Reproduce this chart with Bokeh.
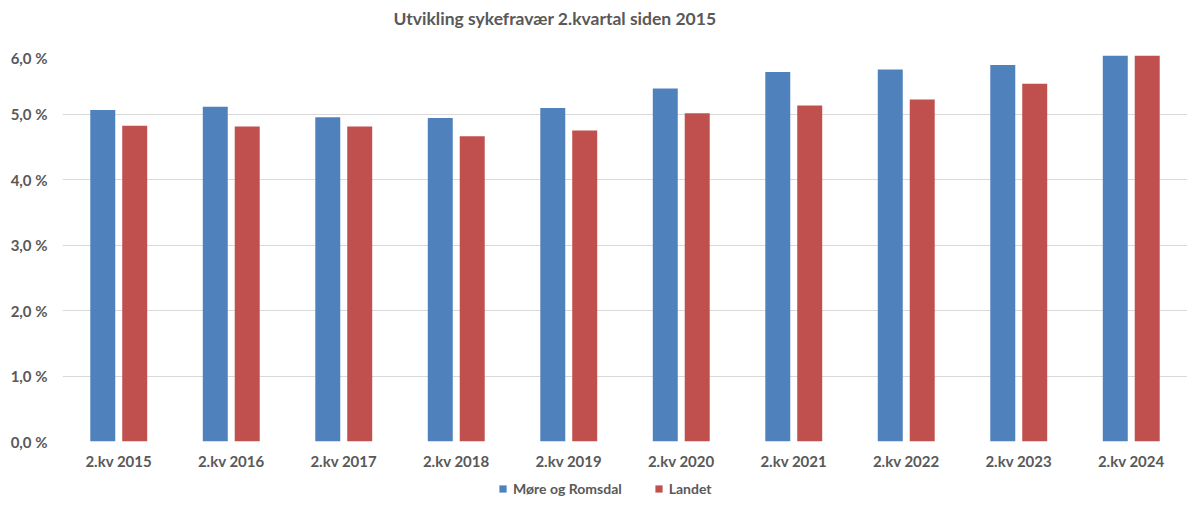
from bokeh.plotting import figure
from bokeh.layouts import column
from bokeh.models import (ColumnDataSource, Legend, LegendItem, CustomJSTickFormatter,
                          FixedTicker, Label)
from bokeh.transform import dodge
from bokeh.embed import file_html
from bokeh.resources import INLINE

categories = ["2.kv 2015", "2.kv 2016", "2.kv 2017", "2.kv 2018", "2.kv 2019",
              "2.kv 2020", "2.kv 2021", "2.kv 2022", "2.kv 2023", "2.kv 2024"]
more_og_romsdal = [5.06, 5.11, 4.95, 4.94, 5.09, 5.39, 5.64, 5.68, 5.75, 5.89]
landet = [4.82, 4.81, 4.81, 4.66, 4.75, 5.01, 5.13, 5.22, 5.46, 5.89]
series_names = ["Møre og Romsdal", "Landet"]
y_ticks = [0, 1, 2, 3, 4, 5, 6]
title_text = "Utvikling sykefravær 2.kvartal siden 2015"

FONT = "Lato"
TXT = "#595959"
BLUE = "#4F81BD"
RED = "#C0504D"
W = 1187
LEFT = 62

src = ColumnDataSource(dict(cat=categories, more=more_og_romsdal, landet=landet))


def strip(height, **kw):
    f = figure(width=W, height=height, x_axis_location=None, y_axis_location=None,
               output_backend="svg", toolbar_location=None,
               min_border_left=LEFT, min_border_right=0, min_border_top=0,
               min_border_bottom=0, **kw)
    f.grid.grid_line_color = None
    f.outline_line_color = None
    return f


# title strip
tt = strip(48, x_range=(0, 1), y_range=(0, 1))
tt.add_layout(Label(x=331, y=30, x_units="screen", y_units="screen", text=title_text,
                    text_font=FONT, text_font_size="17.5px", text_font_style="bold",
                    text_color=TXT, text_baseline="middle", text_align="left"))

# main chart
p = figure(x_range=categories, y_range=(0, 6), width=W, height=428,
           output_backend="svg", toolbar_location=None,
           min_border_left=LEFT, min_border_right=0, min_border_top=0, min_border_bottom=35)

r1 = p.vbar(x=dodge("cat", -0.142, range=p.x_range), top="more", width=0.222,
            source=src, fill_color=BLUE, line_color=None)
r2 = p.vbar(x=dodge("cat", 0.142, range=p.x_range), top="landet", width=0.222,
            source=src, fill_color=RED, line_color=None)

p.yaxis.ticker = FixedTicker(ticks=y_ticks)
p.yaxis.formatter = CustomJSTickFormatter(code="return tick.toFixed(1).replace('.', ',') + ' %';")
for ax in (p.xaxis[0], p.yaxis[0]):
    ax.axis_line_color = None
    ax.major_tick_line_color = None
    ax.minor_tick_line_color = None
    ax.major_tick_out = 0
    ax.major_tick_in = 0
    ax.major_label_text_font = FONT
    ax.major_label_text_font_size = "15px"
    ax.major_label_text_font_style = "bold"
    ax.major_label_text_color = TXT
p.yaxis.major_label_standoff = 15
p.xaxis.major_label_standoff = 10

p.xgrid.grid_line_color = None
p.ygrid.grid_line_color = "#d9d9d9"
p.ygrid.grid_line_width = 1
p.outline_line_color = None

# legend strip below the chart (hidden proxy bars, only used for the swatches)
lg = strip(21, x_range=categories, y_range=(-1000, -999))
q1 = lg.vbar(x="cat", top="more", bottom="more", width=0.2, source=src,
             fill_color=BLUE, line_color=None)
q2 = lg.vbar(x="cat", top="landet", bottom="landet", width=0.2, source=src,
             fill_color=RED, line_color=None)
q1.visible = False
q2.visible = False
legend = Legend(items=[LegendItem(label=series_names[0], renderers=[q1], index=0),
                       LegendItem(label=series_names[1], renderers=[q2], index=0)],
                orientation="horizontal", location=(436, 0),
                border_line_alpha=0, background_fill_alpha=0,
                label_text_font=FONT, label_text_font_size="14px",
                label_text_font_style="bold", label_text_color=TXT,
                glyph_width=9, glyph_height=9, label_standoff=6,
                spacing=32, padding=0, margin=0)
lg.add_layout(legend, "center")

layout = column(tt, p, lg, spacing=0)
open("out.html", "w").write(file_html(layout, INLINE))
